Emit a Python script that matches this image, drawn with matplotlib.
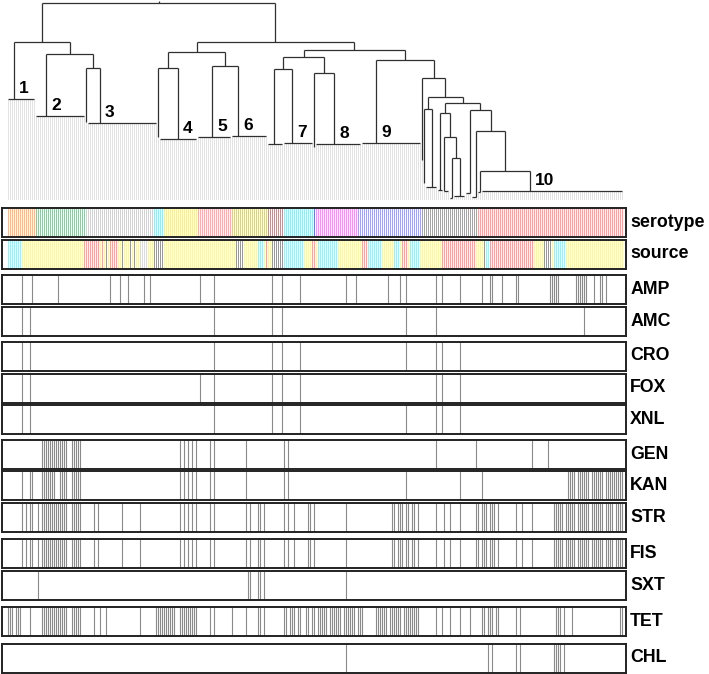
import numpy as np
import matplotlib
matplotlib.use('Agg')
import matplotlib.pyplot as plt

plt.rcParams['font.family'] = ['Liberation Sans', 'DejaVu Sans']

# ---- data -------------------------------------------------------------
N = 308  # isolates, left to right in dendrogram order

# dendrogram: internal node = (height, left, right)
# leaf group = (n_isolates, height, anchor leaf in group, cluster label)
left_tree = (158,
             (14, 101, 3, '1'),
             (146,
              (25, 84, 5, '2'),
              (132, (1, 78, 0, ''), (35, 77, 6, '3'))))
n148 = (148,
        (132, (1, 63, 0, ''), (19, 61, 9, '4')),
        (134, (17, 63, 7, '5'), (18, 64, 3, '6')))
n143 = (143,
        (131, (8, 56, 3, ''), (15, 57, 4, '7')),
        (127, (1, 53, 0, ''), (23, 56, 9, '8')))
n69 = (69, (3, 3, 2, ''), (29, (2, 8, 1, ''), (71, 9, 24, '10')))
n90 = (90, (3, 7, 2, ''), n69)
n63 = (63, (3, 9, 0, ''), (42, (2, 2, 1, ''), (6, 4, 3, '')))
n87 = (87, (3, 10, 1, ''), n63)
n91 = (91, (1, 17, 0, ''), (6, 13, 3, ''))
n103 = (103, n91, (97, n87, n90))
n140 = (140, (30, 57, 7, '9'), (122, (1, 40, 0, ''), n103))
right_tree = (158, n148, (150, n143, n140))
tree = (197, left_tree, right_tree)

serotype_starts = [0, 14, 39, 73, 78, 95, 112, 130, 138, 153, 154, 175, 207, 235]
serotype_codes = ['A', 'B', 'C', 'D', 'E', 'F', 'G', 'H', 'D', 'I', 'J', 'K', 'L', 'M']

source_starts = [0, 7, 38, 46, 47, 48, 49, 50, 51, 55, 57, 58, 61, 62, 63, 64, 66, 70,
                 73, 78, 114, 118, 125, 128, 129, 130, 132, 138, 148, 152, 154, 155,
                 165, 177, 180, 187, 193, 196, 197, 200, 201, 206, 217, 234, 238, 239,
                 241, 263, 268, 272, 273, 279]
source_codes = ['C', 'Y', 'R', 'Y', 'R', 'Y', 'G', 'Y', 'R', 'Y', 'G', 'Y', 'G', 'Y',
                'G', 'Y', 'W', 'Y', 'G', 'Y', 'G', 'Y', 'C', 'Y', 'R', 'Y', 'G', 'C',
                'Y', 'R', 'Y', 'C', 'Y', 'R', 'C', 'Y', 'C', 'Y', 'R', 'Y', 'C', 'Y',
                'R', 'Y', 'G', 'C', 'R', 'Y', 'G', 'Y', 'C', 'Y']

AMP = [7, 12, 25, 51, 56, 60, 68, 71, 96, 103, 132, 137, 146, 169, 174, 190, 196, 199,
       214, 217, 226, 237, 241, 242, 247, 254, 255, 271, 272, 273, 274, 275, 284, 285,
       286, 287, 288, 289, 293, 296, 297, 299]
AMC = [7, 11, 103, 132, 137, 199, 214, 288]
CRO = [7, 11, 103, 132, 137, 146, 199, 214, 217, 226]
FOX = [7, 11, 96, 103, 132, 137, 146, 214, 217, 226]
XNL = [7, 11, 103, 132, 137, 146, 199, 214, 217, 226]
GEN = [17, 18, 19, 20, 21, 22, 23, 24, 25, 26, 27, 28, 29, 32, 33, 34, 35, 36,
       86, 88, 90, 92, 94, 101, 103, 119, 138, 140, 214, 234, 262, 270]
KAN = [7, 11, 12, 17, 18, 19, 20, 21, 22, 23, 26, 27, 28, 29, 32, 33, 34, 35, 36,
       86, 88, 90, 92, 94, 101, 103, 119, 138, 140, 199, 226, 237,
       280, 281, 282, 283, 285, 286, 287, 288, 289, 290, 292, 293, 294, 295, 296,
       297, 299, 300, 301, 302, 303, 304, 305, 306, 307]
STR = [7, 9, 11, 12, 15, 17, 18, 19, 20, 21, 22, 23, 24, 25, 26, 27, 28, 29,
       32, 33, 34, 35, 36, 43, 45, 57, 66, 86, 88, 90, 92, 94, 101, 103, 119, 121,
       125, 126, 128, 138, 140, 143, 150, 151, 153, 169,
       192, 193, 195, 196, 197, 199, 200, 202, 203, 205, 214, 218, 221, 226,
       234, 235, 237, 238, 239, 241, 242, 243, 245, 254, 257, 262,
       273, 274, 275, 276, 277, 279, 280, 281, 282, 283, 285, 286, 287, 288, 289,
       290, 292, 293, 294, 295, 296, 297, 299, 300, 301, 302, 304, 305, 306, 307]
FIS = [7, 9, 11, 12, 15, 17, 18, 19, 20, 21, 22, 23, 24, 25, 26, 27, 28, 29,
       32, 33, 34, 35, 36, 43, 45, 57, 66, 86, 88, 90, 92, 94, 101, 103, 119, 121,
       125, 126, 128, 138, 140, 143, 150, 151, 153, 169,
       192, 193, 195, 196, 197, 199, 200, 202, 203, 205, 214, 218, 221, 226,
       234, 235, 237, 238, 239, 241, 242, 243, 245, 254, 257, 262,
       273, 274, 275, 276, 277, 279, 280, 281, 282, 283, 285, 286, 287, 288, 289,
       290, 292, 293, 294, 295, 296, 297, 299, 300, 301, 302, 304, 305, 306, 307]
SXT = [15, 120, 121, 125, 126, 128, 169]
TET = [0, 1, 2, 4, 5, 6, 11, 17, 18, 19, 20, 21, 22, 23, 24, 25, 26, 27, 28, 29,
       32, 33, 34, 35, 36, 43, 46, 49, 66,
       74, 75, 76, 77, 78, 79, 80, 81, 82, 83, 86, 87, 88, 89, 90, 91, 92, 93, 94,
       101, 103, 112, 119, 125, 126, 128, 138, 139, 141, 142, 143, 145, 146,
       149, 150, 152, 153, 155, 156, 157, 158, 159, 161, 162, 163, 164, 165, 166,
       168, 169, 170, 171, 172, 173, 175, 176, 177,
       184, 185, 186, 187, 188, 189, 191, 192, 193, 194, 195, 196, 198, 199, 200,
       201, 202, 203, 204, 205, 214, 217, 221, 226, 231,
       237, 238, 240, 241, 242, 244, 245, 254, 256, 274, 275, 276, 278, 282, 306, 307]
CHL = [169, 240, 242, 254, 256, 273, 274, 275, 276, 278]

drug_names = ['AMP', 'AMC', 'CRO', 'FOX', 'XNL', 'GEN', 'KAN', 'STR', 'FIS', 'SXT', 'TET', 'CHL']
drug_data = [AMP, AMC, CRO, FOX, XNL, GEN, KAN, STR, FIS, SXT, TET, CHL]

# ---- styles / layout ----------------------------------------------------
sero_pal = {'A': '#f4ae82', 'B': '#86b896', 'C': '#cacaca', 'D': '#8ce4ea',
            'E': '#f2ea94', 'F': '#f2a2a6', 'G': '#cdc87e', 'H': '#ad8080',
            'I': '#5a5ad8', 'J': '#e884e8', 'K': '#9292e6', 'L': '#939393',
            'M': '#ef9494'}
src_pal = {'Y': '#f7f2a6', 'C': '#96e6ee', 'R': '#ef9494', 'G': '#858585', 'W': '#d4d4d4'}

W, H = 709, 674
X0, X1 = 2, 626
row_tops = [208, 239.5, 274.5, 306.5, 341.5, 373.5, 405, 440, 471, 503, 539, 570.5, 607, 643.5]
ROW_H = 29
XLIM = (-3, N + 1)
DCOL = '#303030'

fig = plt.figure(figsize=(W / 100, H / 100), dpi=100)


def px_axes(top, height):
    return fig.add_axes([X0 / W, 1 - (top + height) / H, (X1 - X0) / W, height / H])


# ---- dendrogram -----------------------------------------------------------
axd = px_axes(0, 200)
axd.set_xlim(*XLIM)
axd.set_ylim(0, 200)
axd.axis('off')

counter = [0]


def draw(node):
    if len(node) == 4:
        n, h, a, lab = node
        first = counter[0]
        counter[0] += n
        idx = np.arange(first, first + n)
        axd.vlines(idx, 0, h, color='#d8d8d8', lw=0.5, zorder=1)
        if n > 1:
            axd.hlines(h, idx[0], idx[-1], color=DCOL, lw=0.9, zorder=2)
        x = first + a
        if lab:
            axd.annotate(lab, (x, h), xytext=(3.6, 4.3), textcoords='offset points',
                         ha='left', va='baseline', fontsize=12.5, fontweight='bold')
        return x, h
    hgt, left, right = node
    xl, hl = draw(left)
    xr, hr = draw(right)
    axd.vlines([xl, xr], [hl, hr], hgt, color=DCOL, lw=0.9, zorder=2)
    axd.hlines(hgt, xl, xr, color=DCOL, lw=0.9, zorder=2)
    return (xl + xr) / 2, hgt


xr, hr = draw(tree)
axd.vlines(xr, hr, hr + 2, color=DCOL, lw=0.9)


# ---- strips -------------------------------------------------------------
def expand(starts, codes):
    out = []
    ends = starts[1:] + [N]
    for s, e, c in zip(starts, ends, codes):
        out += [c] * (e - s)
    return out


def frame(ax, label):
    ax.set_xlim(*XLIM)
    ax.set_ylim(0, 1)
    ax.set_xticks([])
    ax.set_yticks([])
    for sp in ax.spines.values():
        sp.set_linewidth(1.4)
        sp.set_color('#222222')
    ax.annotate(label, (1, 0.5), xycoords='axes fraction', xytext=(3, 0),
                textcoords='offset points', ha='left', va='center',
                fontsize=12.8, fontweight='bold')


sero = expand(serotype_starts, serotype_codes)
src = expand(source_starts, source_codes)
iso = np.arange(N)

ax = px_axes(row_tops[0], ROW_H)
ax.vlines(iso, 0, 1, colors=[sero_pal[c] for c in sero], lw=0.6)
frame(ax, 'serotype')

ax = px_axes(row_tops[1], ROW_H)
ax.vlines(iso, 0, 1, colors=[src_pal[c] for c in src], lw=0.6)
frame(ax, 'source')

for k, (name, res) in enumerate(zip(drug_names, drug_data)):
    ax = px_axes(row_tops[k + 2], ROW_H)
    ax.vlines(res, 0, 1, color='#8a8a8a', lw=0.8)
    frame(ax, name)

fig.savefig('out.png', dpi=100, facecolor='white')
